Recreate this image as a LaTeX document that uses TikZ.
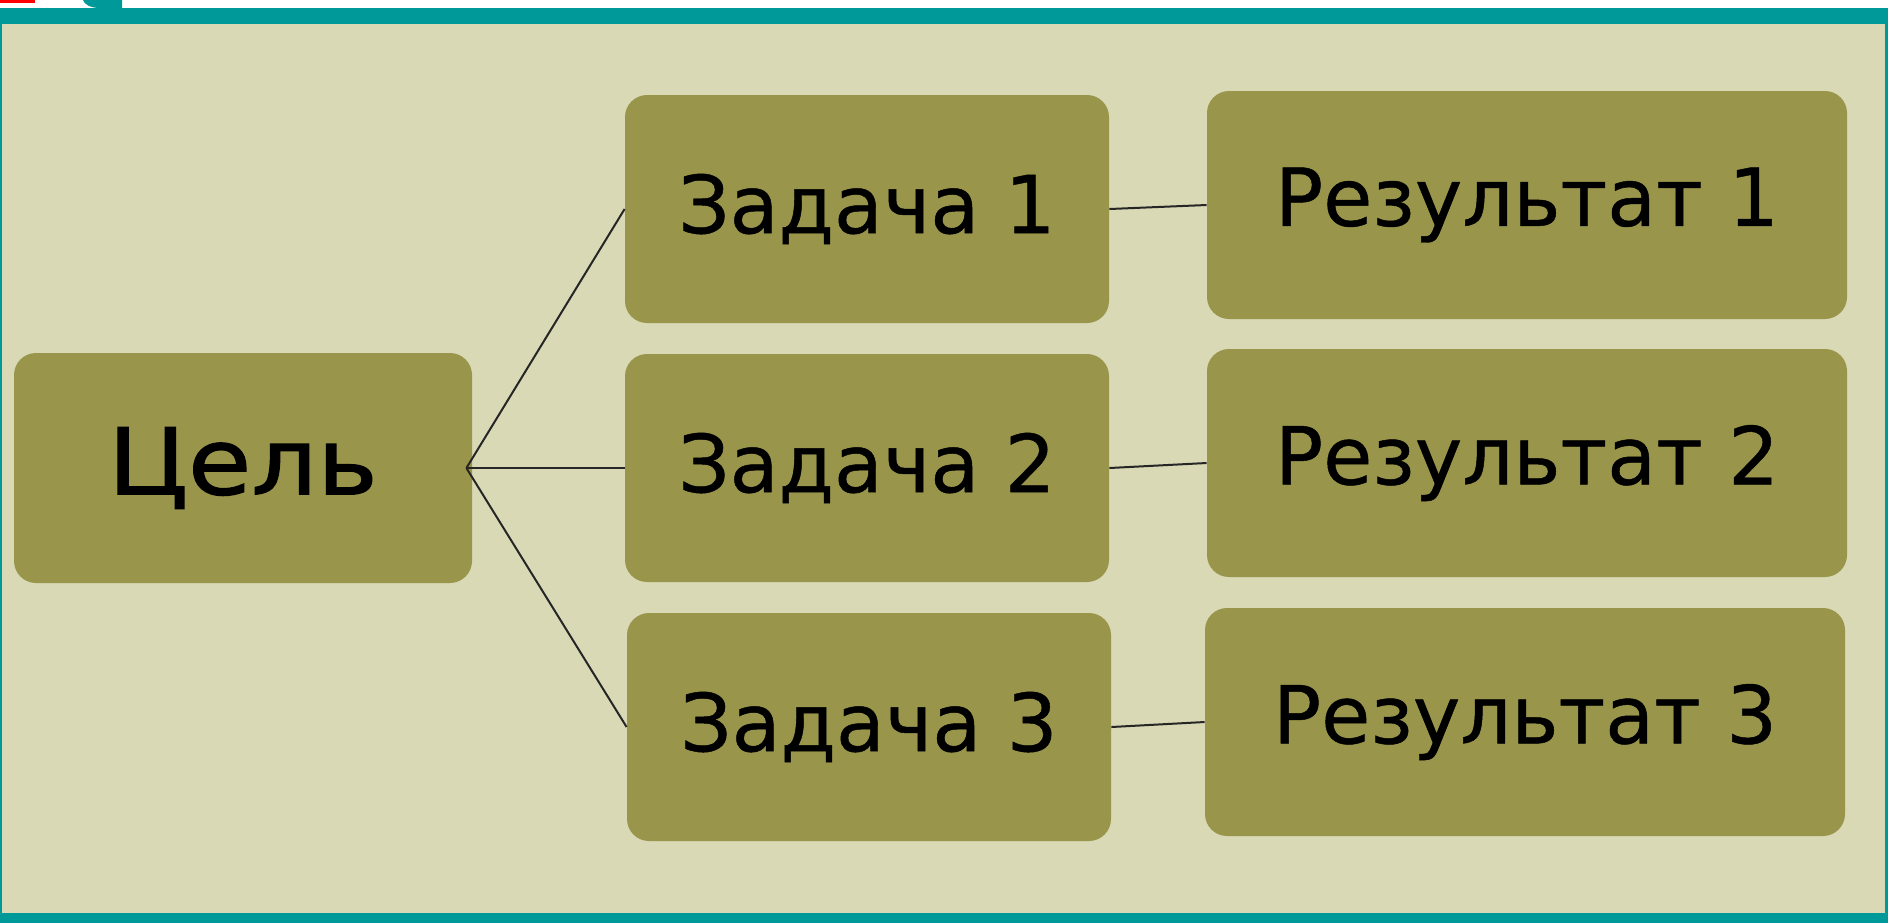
\documentclass[tikz,border=0pt]{standalone}
\usepackage{fontspec}
\setmainfont[FakeBold=0.6]{DejaVu Sans}
\newfontfamily\goalfont[FakeBold=1.4, FakeStretch=1.12]{DejaVu Sans}
\definecolor{frame}{HTML}{00999A}
\definecolor{paper}{HTML}{D9D9B6}
\definecolor{olive}{HTML}{99964C}
\tikzset{
	box/.style={fill=olive, rounded corners=11pt, inner sep=0pt, font=\fontsize{40}{48}\selectfont},
	goal/.style={box, minimum width=229pt, minimum height=115pt, font=\goalfont\fontsize{46}{54}\selectfont},
	task/.style={box, minimum width=242pt, minimum height=114pt},
	result/.style={box, minimum width=320pt, minimum height=114pt},
	link/.style={line width=1pt, black!85}
}

\begin{document}
\begin{tikzpicture}[x=0.5pt,y=-0.5pt]
				\useasboundingbox (0,0) rectangle (1888,923);
				\fill[white] (0,0) rectangle (1888,923);
				\fill[frame] (0,8) rectangle (1888,923);
				\fill[paper] (2,24) rectangle (1885,913);
				\fill[red] (0,0) rectangle (35,3);
				\fill[frame] (83,0) -- (122,0) -- (122,8) -- (100,8) .. controls (90,8) and (84,4) .. (83,0);
				
				\node[goal] (tsel) at (243,468) {Цель};
				
				\node[task] (task1) at (867,209) {Задача 1};
				\node[task] (task2) at (867,468) {Задача 2};
				\node[task] (task3) at (869,727) {Задача 3};
				
				\node[result] (res1) at (1527,205) {Результат 1};
				\node[result] (res2) at (1527,463) {Результат 2};
				\node[result] (res3) at (1525,722) {Результат 3};
				
				\coordinate (fork) at ([xshift=-3pt]tsel.east);
				\draw[link] (fork) -- (task1.west);
				\draw[link] (fork) -- (task2.west);
				\draw[link] (fork) -- (task3.west);
				
				\draw[link] (task1.east) -- (res1.west);
				\draw[link] (task2.east) -- (res2.west);
				\draw[link] (task3.east) -- (res3.west);
			\end{tikzpicture}
\end{document}
